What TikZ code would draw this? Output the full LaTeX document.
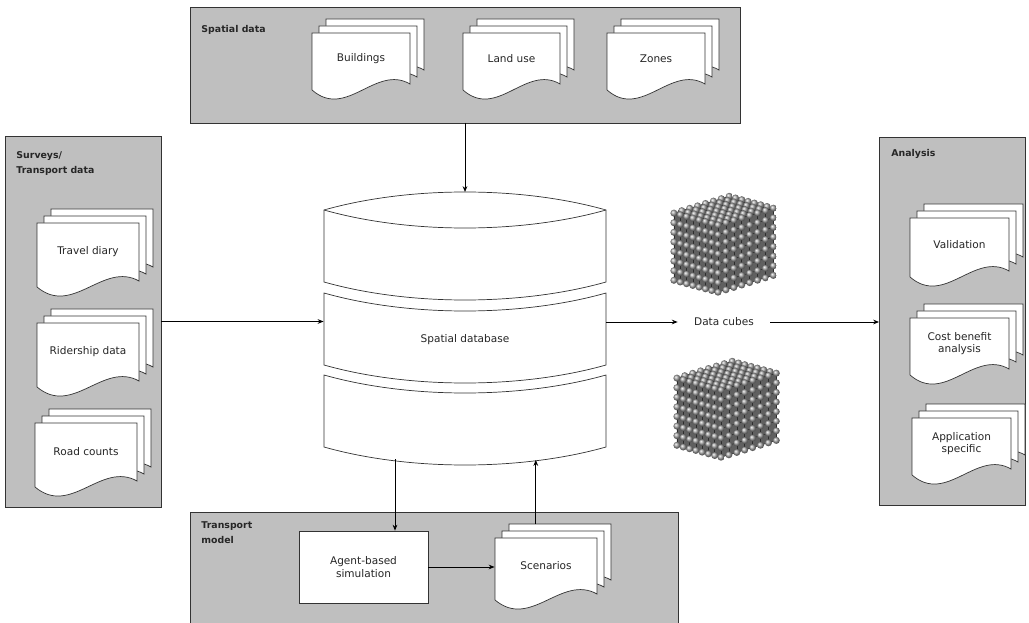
\documentclass[tikz,border=0pt]{standalone}
\usepackage{fontspec}
\setmainfont{DejaVu Sans}
\usetikzlibrary{arrows.meta}
\usetikzlibrary{positioning}

\newcommand{\pxu}{0.03cm}

\tikzset{
  panel/.style={fill=gray!50, draw=gray!40!black, line width=0.8pt, inner sep=0pt, outer sep=0pt},
  paneltitle/.style={font=\fontsize{8}{13}\selectfont\bfseries, text=black!85, align=left, anchor=north west, inner sep=0pt},
  sheet/.style={fill=white, draw=black!80, line width=0.6pt},
  doctext/.style={font=\fontsize{9}{11}\selectfont, text=black!85, align=center, inner sep=0pt},
  procbox/.style={fill=white, draw=black!80, line width=0.6pt, font=\fontsize{9}{11}\selectfont, text=black!85, align=center},
  dbslab/.style={fill=white, draw=black!80, line width=0.6pt},
  rod/.style={draw=gray!35!black, line width=0.5pt},
  cubeface/.style={fill=gray!75!black, draw=none},
  datacube/.pic={
    % dark faces behind the lattice
    \path[cubeface] (0,0) -- (-44.1,-11.9) -- ++(0,67.2) -- (0,67.2) -- cycle;
    \path[cubeface] (0,0) -- (55.3,-16.8) -- ++(0,67.2) -- (0,67.2) -- cycle;
    \path[cubeface, fill=gray!90!black] (0,0) -- (-44.1,-11.9) -- (11.2,-28.7) -- (55.3,-16.8) -- cycle;
    % rods on the three faces we can see
    \foreach \n in {0,...,7}{
      \draw[rod] (0,\n*9.6) -- ++(-44.1,-11.9);
      \draw[rod] (0,\n*9.6) -- ++(55.3,-16.8);
      \draw[rod] (-6.3*\n,-1.7*\n) -- ++(0,67.2);
      \draw[rod] (7.9*\n,-2.4*\n) -- ++(0,67.2);
      \draw[rod] (-6.3*\n,-1.7*\n) -- ++(55.3,-16.8);
      \draw[rod] (7.9*\n,-2.4*\n) -- ++(-44.1,-11.9);
    }
    % balls, back ones first
    \foreach \k in {7,...,0}
      \foreach \i in {7,...,0}
        \foreach \j in {7,...,0}{
          \pgfmathtruncatemacro\onface{(\i==0)||(\j==0)||(\k==0)}
          \ifnum\onface=1
            \shade[ball color=gray!70] (-6.3*\i+7.9*\j,-1.7*\i-2.4*\j+9.6*\k) circle (3.5);
          \fi
        }
  }
}

% three stacked sheets; front sheet top left at (#2,#3), width #4, height #5
\newcommand{\docstack}[6]{
  \foreach \sh in {14,7,0}
    \filldraw[sheet] (#2+\sh,#3-\sh) -- ++(#4,0) -- ++(0,#5-6)
      .. controls +(-0.35*#4,-20) and +(0.35*#4,30) .. (#2+\sh,#3-\sh+#5) -- cycle;
  \node[doctext, minimum width=#4*\pxu, minimum height=0.88*#5*\pxu, anchor=north] (#1) at (#2+0.5*#4,#3) {#6};
  \coordinate (#1-top) at (#2+0.4*#4,#3-14);
}

\begin{document}
\begin{tikzpicture}[x=\pxu, y=-\pxu, thick, >={Stealth[length=5pt,width=4pt]}]
  \useasboundingbox (0,0) rectangle (1029,623);

  % grey group panels
  \node[panel, minimum width=550*\pxu, minimum height=116*\pxu] (spatial) at (465,65) {};
  \node[panel, minimum width=156*\pxu, minimum height=371*\pxu] (surveys) at (83,321.5) {};
  \node[panel, minimum width=146*\pxu, minimum height=368*\pxu] (analysis) at (952,321) {};
  \node[panel, minimum width=488*\pxu, minimum height=120*\pxu] (transport) at (434,572) {};

  \node[paneltitle] (t-spatial) at (201,25) {Spatial data};
  \node[paneltitle] (t-surveys) at (16,151) {Surveys/\\Transport data};
  \node[paneltitle] (t-analysis) at (891,149) {Analysis};
  \node[paneltitle] (t-transport) at (201,521) {Transport\\model};

  % input and output documents
  \docstack{build}{312}{33}{98}{57}{Buildings}
  \docstack{landuse}{463}{33}{97}{57}{Land use}
  \docstack{zones}{607}{33}{98}{57}{Zones}
  \docstack{travel}{37}{223}{102}{64}{Travel diary}
  \docstack{rider}{37}{323}{102}{64}{Ridership data}
  \docstack{road}{35}{423}{102}{64}{Road counts}
  \docstack{valid}{910}{218}{99}{59}{Validation}
  \docstack{costben}{910}{318}{99}{57}{Cost benefit\\analysis}
  \docstack{appspec}{912}{418}{99}{57}{Application\\specific}
  \docstack{scen}{495}{538}{102}{62}{Scenarios}

  \node[procbox, minimum width=129*\pxu, minimum height=72*\pxu] (agent) at (363.5,567) {Agent-based\\simulation};

  % spatial database drum
  \filldraw[dbslab] (324,210) .. controls (409,186) and (521,186) .. (606,210) -- (606,282)
    .. controls (521,306) and (409,306) .. (324,282) -- cycle;
  \draw[dbslab] (324,210) .. controls (409,234) and (521,234) .. (606,210);
  \foreach \ys/\yb in {293/365, 375/447}
    \filldraw[dbslab] (324,\ys) .. controls (409,\ys+24) and (521,\ys+24) .. (606,\ys) -- (606,\yb)
      .. controls (521,\yb+24) and (409,\yb+24) .. (324,\yb) -- cycle;
  \node[doctext, minimum width=282*\pxu, minimum height=72*\pxu] (db) at (465,340) {Spatial database};
  \coordinate (db-top) at (465,192);
  \coordinate (db-out) at (395,459);
  \coordinate (db-in) at (535,460);

  % data cubes
  \pic at (718,225) {datacube};
  \pic at (721,390) {datacube};
  \node[doctext, inner xsep=0.48cm] (cubes) at (724,322) {Data cubes};

  \draw[->] (spatial.south) -- (db-top);
  \draw[->] (surveys.east) -- (surveys.east -| db.west);
  \draw[->] (cubes.west -| db.east) -- (cubes.west);
  \draw[->] (cubes.east) -- (cubes.east -| analysis.west);
  \draw[->] (db-out) -- (db-out |- agent.north);
  \draw[->] (scen-top) -- (scen-top |- db-in);
  \draw[->] (agent.east) -- (agent.east -| scen.west);
\end{tikzpicture}
\end{document}
